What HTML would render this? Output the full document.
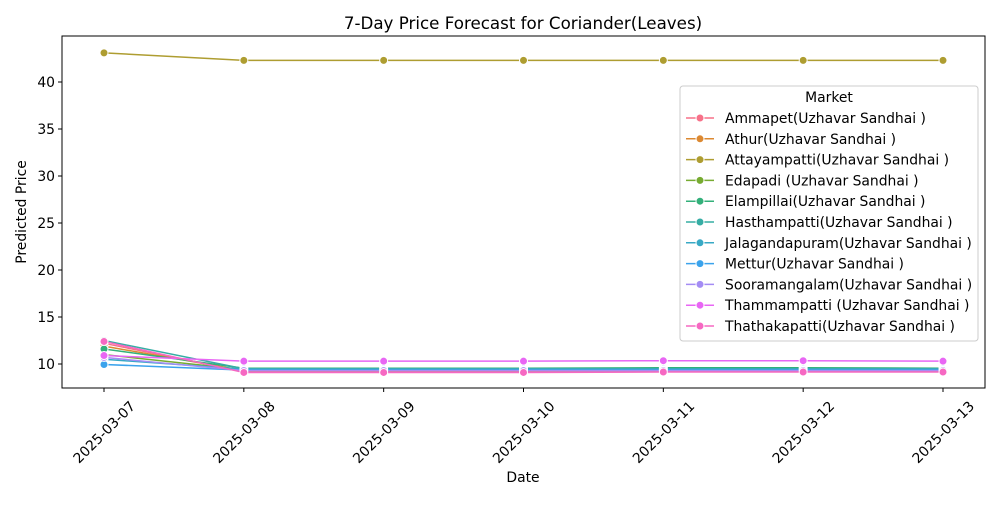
<!DOCTYPE html>
<html><head><meta charset="utf-8"><style>body{margin:0;background:#fff}svg{font-family:"DejaVu Sans","Liberation Sans",sans-serif}</style></head>
<body>
<svg id="c" width="1000" height="500" xmlns="http://www.w3.org/2000/svg"></svg>
<script>
const dates=["2025-03-07","2025-03-08","2025-03-09","2025-03-10","2025-03-11","2025-03-12","2025-03-13"];
const markets=["Ammapet(Uzhavar Sandhai )","Athur(Uzhavar Sandhai )","Attayampatti(Uzhavar Sandhai )","Edapadi (Uzhavar Sandhai )","Elampillai(Uzhavar Sandhai )","Hasthampatti(Uzhavar Sandhai )","Jalagandapuram(Uzhavar Sandhai )","Mettur(Uzhavar Sandhai )","Sooramangalam(Uzhavar Sandhai )","Thammampatti (Uzhavar Sandhai )","Thathakapatti(Uzhavar Sandhai )"];
const colors=["#f77189","#dc8932","#ae9d31","#77ab31","#33b07a","#36ada4","#38a9c5","#3ba3ec","#a48cf4","#e866f4","#f668c2"];
const s0=[12.2,11.9,43.1,11.0,11.6,12.5,10.5,9.95,10.7,10.9,12.4];
const s1=[9.2,9.3,42.3,9.4,9.55,9.5,9.45,9.35,9.3,10.3,9.1];
const s2=[9.2,9.3,42.3,9.4,9.55,9.5,9.45,9.35,9.3,10.3,9.1];
const s3=[9.2,9.3,42.3,9.4,9.55,9.5,9.45,9.35,9.3,10.3,9.1];
const s4=[9.2,9.3,42.3,9.4,9.6,9.5,9.45,9.35,9.3,10.35,9.15];
const s5=[9.2,9.3,42.3,9.4,9.6,9.5,9.45,9.35,9.3,10.35,9.15];
const s6=[9.2,9.3,42.3,9.4,9.55,9.5,9.45,9.35,9.3,10.3,9.15];
const series=[s0,s1,s2,s3,s4,s5,s6];
const yTicks=[10,15,20,25,30,35,40];
const NS="http://www.w3.org/2000/svg",svg=document.getElementById('c');
const L=62,R=985,T=36,B=388;
const x=i=>104+i*(943-104)/6;
const y=v=>364-(v-10)*9.4;
function el(t,a,p){const e=document.createElementNS(NS,t);for(const k in a)e.setAttribute(k,a[k]);(p||svg).appendChild(e);return e;}
let t=el('text',{x:523,y:29,'text-anchor':'middle','font-size':16.7});t.textContent="7-Day Price Forecast for Coriander(Leaves)";

yTicks.forEach(v=>{el('line',{x1:L-4,x2:L,y1:y(v),y2:y(v),stroke:'#000'});const tx=el('text',{x:L-7,y:y(v)+5,'text-anchor':'end','font-size':13.9});tx.textContent=v;
});
dates.forEach((d,i)=>{el('line',{x1:x(i),x2:x(i),y1:B,y2:B+4,stroke:'#000'});const cx=x(i),cy=B+44;const tx=el('text',{x:cx,y:cy+5,'text-anchor':'middle','font-size':13.9,transform:`rotate(-45 ${cx} ${cy})`});tx.textContent=d;
});
t=el('text',{x:523,y:482,'text-anchor':'middle','font-size':13.9});t.textContent="Date";

t=el('text',{x:26,y:212,'text-anchor':'middle','font-size':13.9,transform:'rotate(-90 26 212)'});t.textContent="Predicted Price";

markets.forEach((m,k)=>{const g=el('g',{});
el('polyline',{points:series.map((s,i)=>x(i)+','+y(s[k])).join(' '),fill:'none',stroke:colors[k],'stroke-width':1.5},g);
series.forEach((s,i)=>{const c=el('circle',{cx:x(i),cy:y(s[k]),r:4,fill:colors[k],stroke:'#fff','stroke-width':1},g);});});
const f=el('rect',{x:L,y:T,width:R-L,height:B-T,fill:'none',stroke:'#000','stroke-width':1});
const lg=el('g',{});
el('rect',{x:680,y:86,width:298,height:255,rx:3,fill:'#fff','fill-opacity':0.85,stroke:'#ccc'},lg);
t=el('text',{x:829,y:102,'text-anchor':'middle','font-size':13.9},lg);t.textContent="Market";
markets.forEach((m,k)=>{const yy=118+k*20.8;const g=el('g',{},lg);
el('line',{x1:686,x2:714,y1:yy,y2:yy,stroke:colors[k],'stroke-width':1.5},g);el('circle',{cx:700,cy:yy,r:4,fill:colors[k],stroke:'#fff'},g);
const tx=el('text',{x:725,y:yy+5,'font-size':13.9},g);tx.textContent=m;});
</script>
</body></html>
